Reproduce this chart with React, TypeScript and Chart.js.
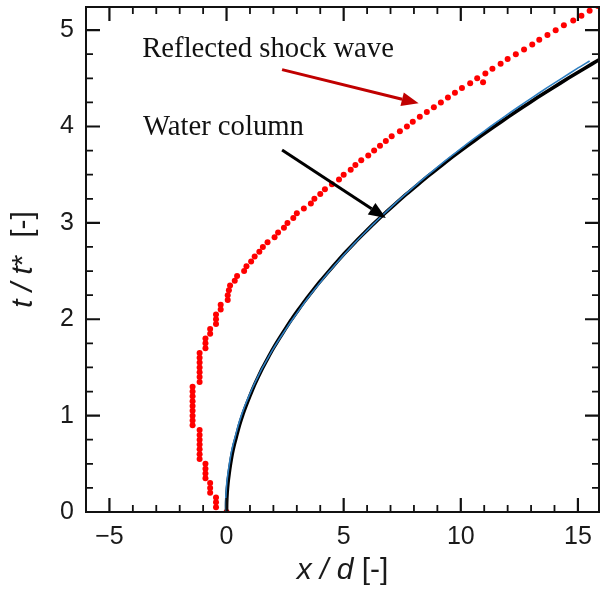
import React, { useEffect, useRef } from 'react';
import { Chart, registerables } from 'chart.js';

Chart.register(...registerables);

// Reflected shock wave (red dots): t / t* and x / d
const redT = [
  0.0, 0.05, 0.1, 0.15, 0.2, 0.25, 0.3, 0.35, 0.4, 0.45, 0.5, 0.55, 0.6, 0.65, 0.7, 0.75, 0.8, 0.85,
  0.9, 0.95, 1.0, 1.05, 1.1, 1.15, 1.2, 1.25, 1.3, 1.35, 1.4, 1.45, 1.5, 1.55, 1.6, 1.65, 1.7, 1.75,
  1.8, 1.85, 1.9, 1.95, 2.0, 2.05, 2.1, 2.15, 2.2, 2.25, 2.3, 2.35, 2.4, 2.45, 2.5, 2.55, 2.6, 2.65,
  2.7, 2.75, 2.8, 2.85, 2.9, 2.95, 3.0, 3.05, 3.1, 3.15, 3.2, 3.25, 3.3, 3.35, 3.4, 3.45, 3.5, 3.55,
  3.6, 3.65, 3.7, 3.75, 3.8, 3.85, 3.9, 3.95, 4.0, 4.05, 4.1, 4.15, 4.2, 4.25, 4.3, 4.35, 4.4, 4.45,
  4.46, 4.5, 4.55, 4.6, 4.65, 4.7, 4.75, 4.8, 4.85, 4.9, 4.95, 5.0, 5.05, 5.1, 5.15, 5.2, 5.25,
];
const redX = [
  0.0, -0.45, -0.45, -0.45, -0.7, -0.7, -0.7, -0.9, -0.9, -0.9, -0.9, -1.15, -1.15, -1.15, -1.15, -1.15, -1.15, -1.15,
  -1.45, -1.45, -1.45, -1.45, -1.45, -1.45, -1.45, -1.45, -1.45, -1.15, -1.15, -1.15, -1.15, -1.15, -1.15, -1.15, -0.9, -0.9,
  -0.9, -0.7, -0.7, -0.45, -0.45, -0.45, -0.25, -0.25, 0.05, 0.05, 0.1, 0.15, 0.35, 0.45, 0.75, 0.85, 1.05, 1.2,
  1.4, 1.55, 1.75, 2.05, 2.2, 2.45, 2.6, 2.85, 3.0, 3.3, 3.6, 3.75, 4.0, 4.2, 4.5, 4.8, 5.0, 5.3,
  5.5, 5.75, 6.05, 6.3, 6.55, 6.8, 7.05, 7.4, 7.7, 7.95, 8.25, 8.55, 8.85, 9.15, 9.45, 9.75, 10.05, 10.4,
  10.95, 10.7, 11.05, 11.35, 11.7, 12.0, 12.35, 12.7, 13.05, 13.35, 13.7, 14.05, 14.4, 14.8, 15.15, 15.5, 15.85,
];

// Water column (black dotted trace)
const blackT = [
  0.0, 0.1, 0.2, 0.3, 0.4, 0.5, 0.6, 0.7, 0.8, 0.9, 1.0, 1.1, 1.2, 1.3, 1.4, 1.5, 1.6, 1.7, 1.8, 1.9,
  2.0, 2.1, 2.2, 2.3, 2.4, 2.5, 2.6, 2.7, 2.8, 2.9, 3.0, 3.1, 3.2, 3.3, 3.4, 3.5, 3.6, 3.7, 3.8, 3.9,
  4.0, 4.1, 4.2, 4.3, 4.4, 4.5, 4.6, 4.7, 4.8,
];
const blackX = [
  0.0, 0.005, 0.025, 0.06, 0.11, 0.17, 0.24, 0.33, 0.44, 0.55, 0.68, 0.83, 0.99, 1.16, 1.35, 1.55, 1.77, 2.0, 2.25, 2.51,
  2.78, 3.07, 3.37, 3.69, 4.02, 4.37, 4.73, 5.1, 5.49, 5.9, 6.32, 6.76, 7.22, 7.69, 8.18, 8.68, 9.2, 9.73, 10.28, 10.85,
  11.43, 12.03, 12.64, 13.27, 13.92, 14.58, 15.26, 15.95, 16.65,
];

// Model curve (thin blue line)
const blueT = [
  0.0, 0.1, 0.2, 0.3, 0.4, 0.5, 0.6, 0.7, 0.8, 0.9, 1.0, 1.1, 1.2, 1.3, 1.4, 1.5, 1.6, 1.7, 1.8, 1.9,
  2.0, 2.1, 2.2, 2.3, 2.4, 2.5, 2.6, 2.7, 2.8, 2.9, 3.0, 3.1, 3.2, 3.3, 3.4, 3.5, 3.6, 3.7, 3.8, 3.9,
  4.0, 4.1, 4.2, 4.3, 4.4, 4.5, 4.6, 4.68,
];
const blueX = [
  -0.03, -0.04, -0.02, 0.01, 0.06, 0.12, 0.19, 0.28, 0.39, 0.5, 0.63, 0.78, 0.95, 1.13, 1.33, 1.54, 1.77, 2.01, 2.27, 2.54,
  2.82, 3.11, 3.41, 3.73, 4.06, 4.4, 4.76, 5.13, 5.51, 5.91, 6.32, 6.75, 7.19, 7.65, 8.12, 8.61, 9.11, 9.63, 10.16, 10.71,
  11.27, 11.85, 12.44, 13.05, 13.67, 14.31, 14.96, 15.5,
];

const xTickValues = [-5, 0, 5, 10, 15];
const xTickLabels = ['\u22125', '0', '5', '10', '15'];
const yTickValues = [0, 1, 2, 3, 4, 5];
const yTickLabels = ['0', '1', '2', '3', '4', '5'];
const xMinorTicks = [-4, -3, -2, -1, 1, 2, 3, 4, 6, 7, 8, 9, 11, 12, 13, 14];
const yMinorTicks = [0.25, 0.5, 0.75, 1.25, 1.5, 1.75, 2.25, 2.5, 2.75, 3.25, 3.5, 3.75, 4.25, 4.5, 4.75, 5.25];

const annotationTexts = ['Reflected shock wave', 'Water column'];

const SANS = "'Liberation Sans', Arial, sans-serif";
const SERIF = "'Liberation Serif', 'Times New Roman', serif";

type Seg = { text: string; italic: boolean };

function drawSegments(ctx: CanvasRenderingContext2D, segs: Seg[], size: number, cx: number, cy: number) {
  const fonts = segs.map((s) => `${s.italic ? 'italic ' : ''}${size}px ${SANS}`);
  let total = 0;
  const widths = segs.map((s, i) => {
    ctx.font = fonts[i];
    const w = ctx.measureText(s.text).width;
    total += w;
    return w;
  });
  let x = cx - total / 2;
  ctx.textBaseline = 'middle';
  ctx.textAlign = 'left';
  segs.forEach((s, i) => {
    ctx.font = fonts[i];
    ctx.fillText(s.text, x, cy);
    x += widths[i];
  });
}

function drawArrow(ctx: CanvasRenderingContext2D, x0: number, y0: number, x1: number, y1: number, color: string) {
  const ang = Math.atan2(y1 - y0, x1 - x0);
  const headLen = 17;
  const headHalf = 7;
  const bx = x1 - headLen * Math.cos(ang);
  const by = y1 - headLen * Math.sin(ang);
  ctx.strokeStyle = color;
  ctx.fillStyle = color;
  ctx.lineWidth = 3;
  ctx.beginPath();
  ctx.moveTo(x0, y0);
  ctx.lineTo(bx, by);
  ctx.stroke();
  ctx.beginPath();
  ctx.moveTo(x1, y1);
  ctx.lineTo(bx + headHalf * Math.sin(ang), by - headHalf * Math.cos(ang));
  ctx.lineTo(bx - headHalf * Math.sin(ang), by + headHalf * Math.cos(ang));
  ctx.closePath();
  ctx.fill();
}

const framePlugin = {
  id: 'frameTicks',
  afterDatasetsDraw(chart: any) {
    const { ctx, chartArea: a, scales } = chart;
    const xs = scales.x;
    const ys = scales.y;
    ctx.save();
    ctx.strokeStyle = '#111';
    const xt = (v: number, len: number, w: number) => {
      const p = xs.getPixelForValue(v);
      ctx.lineWidth = w;
      ctx.beginPath();
      ctx.moveTo(p, a.bottom);
      ctx.lineTo(p, a.bottom - len);
      ctx.moveTo(p, a.top);
      ctx.lineTo(p, a.top + len);
      ctx.stroke();
    };
    const yt = (v: number, len: number, w: number) => {
      const p = ys.getPixelForValue(v);
      if (p < a.top) return;
      ctx.lineWidth = w;
      ctx.beginPath();
      ctx.moveTo(a.left, p);
      ctx.lineTo(a.left + len, p);
      ctx.moveTo(a.right, p);
      ctx.lineTo(a.right - len, p);
      ctx.stroke();
    };
    xTickValues.forEach((v) => xt(v, 14, 2.2));
    xMinorTicks.forEach((v) => xt(v, 7, 1.8));
    yTickValues.forEach((v) => yt(v, 14, 2.2));
    yMinorTicks.forEach((v) => yt(v, 7, 1.8));
    ctx.lineWidth = 2;
    ctx.strokeRect(a.left, a.top, a.right - a.left, a.bottom - a.top);
    ctx.restore();
  },
  afterDraw(chart: any) {
    const { ctx, chartArea: a, scales } = chart;
    const xs = scales.x;
    const ys = scales.y;
    ctx.save();
    // annotations
    ctx.fillStyle = '#111';
    ctx.font = `28.7px ${SERIF}`;
    ctx.textAlign = 'left';
    ctx.textBaseline = 'alphabetic';
    ctx.fillText(annotationTexts[0], xs.getPixelForValue(-3.6), ys.getPixelForValue(4.725));
    ctx.fillText(annotationTexts[1], xs.getPixelForValue(-3.57), ys.getPixelForValue(3.915));
    drawArrow(ctx, xs.getPixelForValue(2.37), ys.getPixelForValue(4.59), xs.getPixelForValue(8.2), ys.getPixelForValue(4.24), '#c00000');
    drawArrow(ctx, xs.getPixelForValue(2.37), ys.getPixelForValue(3.755), xs.getPixelForValue(6.8), ys.getPixelForValue(3.05), '#000000');
    // axis titles
    ctx.fillStyle = '#1a1a1a';
    drawSegments(ctx, [{ text: 'x / d', italic: true }, { text: ' [-]', italic: false }], 30, (a.left + a.right) / 2, 571);
    ctx.translate(24, (a.top + a.bottom) / 2);
    ctx.rotate(-Math.PI / 2);
    drawSegments(ctx, [{ text: 't / t', italic: true }, { text: '*  [-]', italic: false }], 30, 0, 0);
    ctx.restore();
  },
};

export default function App() {
  const ref = useRef<HTMLCanvasElement | null>(null);
  useEffect(() => {
    if (!ref.current) return;
    const chart = new Chart(ref.current, {
      type: 'scatter',
      data: {
        datasets: [
          {
            label: 'Model',
            data: blueT.map((t, i) => ({ x: blueX[i], y: t })),
            showLine: true,
            borderColor: '#2f7fc1',
            borderWidth: 1.6,
            pointRadius: 0,
            tension: 0.3,
          },
          {
            label: 'Water column',
            data: blackT.map((t, i) => ({ x: blackX[i], y: t })),
            showLine: true,
            borderColor: '#000000',
            borderWidth: 3.6,
            pointRadius: 0,
            tension: 0.3,
          },
          {
            label: 'Reflected shock wave',
            data: redT.map((t, i) => ({ x: redX[i], y: t })),
            showLine: false,
            backgroundColor: '#ff0000',
            borderWidth: 0,
            pointRadius: 3,
          },
        ],
      },
      options: {
        animation: false,
        responsive: true,
        maintainAspectRatio: false,
        devicePixelRatio: 1,
        layout: { padding: { top: 7, right: 2, left: 0, bottom: 0 } },
        plugins: { legend: { display: false }, tooltip: { enabled: false } },
        scales: {
          x: {
            type: 'linear',
            min: -6,
            max: 15.9,
            grid: { display: false, drawTicks: false },
            border: { display: false },
            ticks: {
              stepSize: 5,
              includeBounds: false,
              padding: 10,
              color: '#1a1a1a',
              font: { family: SANS, size: 25 },
              maxRotation: 0,
              autoSkip: false,
              callback: (v: any) => {
                const i = xTickValues.indexOf(Number(v));
                return i >= 0 ? xTickLabels[i] : '';
              },
            },
            afterFit: (s: any) => {
              s.height = 80;
              s.paddingLeft = 0;
              s.paddingRight = 0;
            },
          },
          y: {
            type: 'linear',
            min: 0,
            max: 5.24,
            grid: { display: false, drawTicks: false },
            border: { display: false },
            ticks: {
              stepSize: 1,
              includeBounds: false,
              padding: 12,
              color: '#1a1a1a',
              font: { family: SANS, size: 25 },
              autoSkip: false,
              callback: (v: any) => {
                const i = yTickValues.indexOf(Number(v));
                return i >= 0 ? yTickLabels[i] : '';
              },
            },
            afterFit: (s: any) => {
              s.width = 86;
              s.paddingTop = 0;
              s.paddingBottom = 0;
            },
          },
        },
      },
      plugins: [framePlugin],
    });
    return () => chart.destroy();
  }, []);
  return (
    <div style={{ position: 'absolute', left: 0, top: 0, width: 603, height: 592, background: '#fff' }}>
      <canvas ref={ref} />
    </div>
  );
}
